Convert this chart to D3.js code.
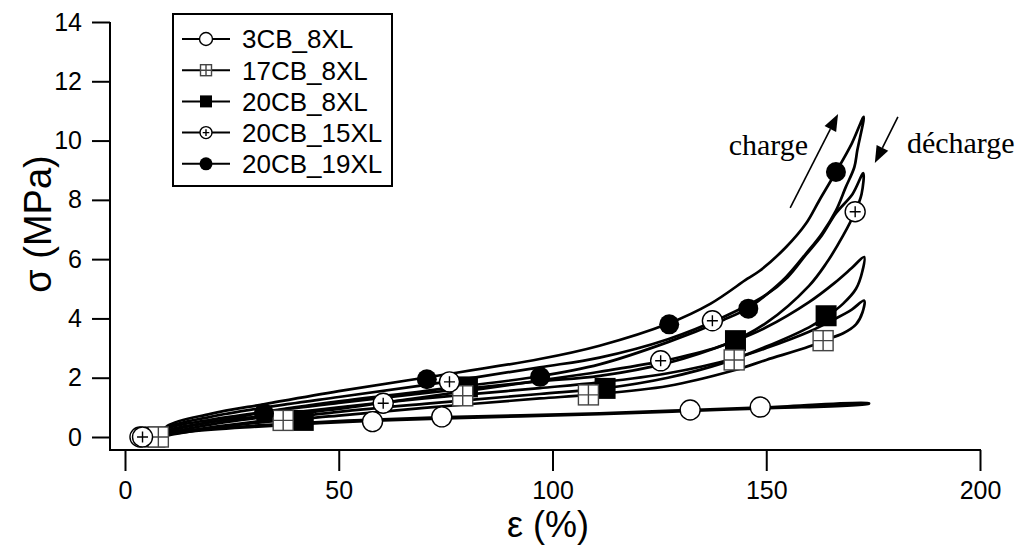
<!DOCTYPE html>
<html><head><meta charset="utf-8">
<script src="https://cdn.jsdelivr.net/npm/d3@7"></script>
<style>body{margin:0;background:#fff}svg{display:block}</style>
</head><body>
<svg id="c" width="1023" height="545"></svg>
<script>
// ---- data ----
const strainTicks = [0, 50, 100, 150, 200];
const stressTicks = [0, 2, 4, 6, 8, 10, 12, 14];
const seriesNames = ["3CB_8XL", "17CB_8XL", "20CB_8XL", "20CB_15XL", "20CB_19XL"];
const seriesSymbols = ["circleOpen", "squareGrid", "squareFilled", "circlePlus", "circleFilled"];

const load3 = [[6,0],[15,0.22],[30,0.38],[52,0.55],[75,0.67],[111,0.8],[132,0.91],[150,1.0],[174,1.14]];
const unload3 = [[174,1.12],[150,0.97],[132,0.88],[111,0.77],[75,0.63],[52,0.51],[30,0.34],[15,0.18],[6,0]];

const load17 = [[8,0],[10,0.22],[20,0.5],[33,0.72],[50,1.0],[70,1.3],[79,1.42],[97,1.65],[111,1.84],[127,2.15],[142.5,2.65],[150,3.0],[160,3.55],[166,3.98],[170,4.3],[172.9,4.6]];
const unload17 = [[172.5,4.2],[171,3.8],[168,3.5],[163.3,3.25],[160,3.05],[150,2.6],[142.5,2.25],[127,1.72],[108.4,1.42],[97,1.3],[70,0.98],[50,0.72],[37,0.56],[20,0.3],[10,0.05],[8,0]];

const load20 = [[8,0],[10,0.28],[20,0.58],[33,0.85],[50,1.15],[70,1.48],[80,1.63],[97,1.88],[111,2.06],[127,2.5],[142.8,3.25],[150,3.7],[160,4.55],[166,5.2],[170,5.7],[172.9,6.07]];
const unload20 = [[172.5,5.6],[171,5.0],[168,4.5],[164,4.05],[160,3.7],[150,3.05],[140,2.5],[127,2.0],[112,1.64],[97,1.45],[70,1.12],[50,0.85],[33,0.56],[20,0.33],[10,0.08],[8,0]];

const load15 = [[8,0],[10,0.32],[20,0.68],[33,1.0],[50,1.35],[70,1.75],[97,2.35],[111,2.68],[127,3.3],[140,4.05],[150,4.8],[155,5.39],[159.3,6.15],[163,6.8],[166.3,7.55],[170.2,8.2],[172.7,8.9]];
const unload15 = [[172.3,8.2],[170.8,7.6],[168,6.8],[164,5.85],[160,5.1],[150,3.85],[140,3.1],[127,2.6],[111,2.2],[97,1.9],[70,1.35],[60,1.15],[50,0.95],[33,0.68],[20,0.42],[10,0.12],[8,0]];

const load19 = [[8,0],[10,0.38],[20,0.78],[33,1.12],[50,1.55],[70,2.0],[97,2.63],[111,3.08],[127,3.82],[137,4.5],[145.6,5.34],[148.4,5.6],[154.6,6.4],[159.3,7.2],[162.4,7.98],[166.3,8.94],[170,9.9],[172.8,10.8]];
const unload19 = [[171.3,9.67],[170.6,9.1],[168.6,8.43],[166.3,7.64],[163,6.86],[159.3,6.19],[154.6,5.39],[150,4.8],[145.8,4.35],[140,3.95],[127,3.2],[111,2.45],[97,2.05],[70,1.55],[50,1.2],[33,0.85],[20,0.5],[10,0.18],[8,0]];

const marks3 = [[3.5,0],[57.9,0.52],[74.1,0.68],[132.2,0.91],[148.6,1.01]];
const marks17 = [[7.8,0],[37,0.56],[79,1.39],[108.4,1.42],[142.5,2.6],[163.3,3.25]];
const marks20 = [[7,0],[41.7,0.56],[80.1,1.69],[112.3,1.64],[142.8,3.25],[164,4.09]];
const marks15 = [[4.1,0],[60.4,1.14],[75.9,1.86],[125.3,2.57],[137.4,3.92],[170.8,7.6]];
const marks19 = [[32.5,0.8],[70.6,1.95],[97.1,2.03],[127.3,3.8],[145.8,4.33],[166.3,8.94]];

// annotation anchors in data units
const chargeArrow = [[155.6,7.73],[166.8,10.9]];
const dechargeArrow = [[180.8,10.8],[175.4,9.24]];
const chargeLabel = [150.5, 9.51];
const dechargeLabel = [182.9, 9.58];

// ---- drawing ----
const svg = d3.select("#c");
const x = d3.scaleLinear().domain([0,200]).range([125,980]);
const y = d3.scaleLinear().domain([0,14]).range([437,22]);
const axisX = 110, axisY = 450;
const FONT = "'Liberation Sans', Arial, sans-serif";

// frame lines
svg.append("line").attr("x1",axisX).attr("x2",axisX).attr("y1",y(14)).attr("y2",axisY+1)
  .attr("stroke","#000").attr("stroke-width",2);
svg.append("line").attr("x1",axisX-1).attr("x2",x(200)+1).attr("y1",axisY).attr("y2",axisY)
  .attr("stroke","#000").attr("stroke-width",2);

const gy = svg.append("g").attr("transform",`translate(${axisX},0)`)
  .call(d3.axisLeft(y).tickValues(stressTicks).tickSize(18).tickSizeOuter(0).tickPadding(10));
gy.select(".domain").remove();
gy.selectAll(".tick line").attr("stroke-width",2);
gy.selectAll("text").attr("font-family",FONT).attr("font-size",25).attr("fill","#000");

const gx = svg.append("g").attr("transform",`translate(0,${axisY})`)
  .call(d3.axisBottom(x).tickValues(strainTicks).tickSize(21).tickSizeOuter(0).tickPadding(10));
gx.select(".domain").remove();
gx.selectAll(".tick line").attr("stroke-width",2);
gx.selectAll("text").attr("font-family",FONT).attr("font-size",25).attr("fill","#000");

svg.append("text").attr("transform","translate(51,224) rotate(-90)").attr("text-anchor","middle")
  .attr("font-family",FONT).attr("font-size",38).text("σ (MPa)");
svg.append("text").attr("x",548).attr("y",537).attr("text-anchor","middle")
  .attr("font-family",FONT).attr("font-size",36).text("ε (%)");

// loops
const line = d3.line().x(d=>x(d[0])).y(d=>y(d[1])).curve(d3.curveCatmullRom.alpha(0.5));
const loops = [[load3,unload3],[load17,unload17],[load20,unload20],[load15,unload15],[load19,unload19]];
loops.forEach(([l,u])=>{
  svg.append("path").attr("d",line(l.concat(u))).attr("fill","none")
    .attr("stroke","#000").attr("stroke-width",2.7).attr("stroke-linejoin","round");
});

function marker(g, type, cx, cy, s){
  if(type==="circleOpen"){
    g.append("circle").attr("cx",cx).attr("cy",cy).attr("r",s).attr("fill","#fff").attr("stroke","#000").attr("stroke-width",1.4);
  } else if(type==="circleFilled"){
    g.append("circle").attr("cx",cx).attr("cy",cy).attr("r",s).attr("fill","#000");
  } else if(type==="circlePlus"){
    g.append("circle").attr("cx",cx).attr("cy",cy).attr("r",s).attr("fill","#fff").attr("stroke","#000").attr("stroke-width",1.4);
    const p=s*0.55;
    g.append("path").attr("d",`M${cx-p},${cy}H${cx+p}M${cx},${cy-p}V${cy+p}`).attr("stroke","#000").attr("stroke-width",1.4);
  } else if(type==="squareFilled"){
    g.append("rect").attr("x",cx-s).attr("y",cy-s).attr("width",2*s).attr("height",2*s).attr("fill","#000");
  } else if(type==="squareGrid"){
    g.append("rect").attr("x",cx-s).attr("y",cy-s).attr("width",2*s).attr("height",2*s).attr("fill","#fff").attr("stroke","#444").attr("stroke-width",1.4);
    g.append("path").attr("d",`M${cx-s},${cy}H${cx+s}M${cx},${cy-s}V${cy+s}`).attr("stroke","#444").attr("stroke-width",1.4);
  }
}

const mg = svg.append("g");
const markSets = [[marks3,"circleOpen",10],[marks20,"squareFilled",10.5],[marks17,"squareGrid",10],[marks15,"circlePlus",10],[marks19,"circleFilled",10]];
markSets.forEach(([pts,t,s])=>pts.forEach(p=>marker(mg,t,x(p[0]),y(p[1]),s)));

// annotations
function arrow(pts){
  const [a,b]=pts.map(p=>[x(p[0]),y(p[1])]);
  const ang=Math.atan2(b[1]-a[1],b[0]-a[0]);
  const L=17,W=6.5;
  const bx=b[0]-L*Math.cos(ang), by=b[1]-L*Math.sin(ang);
  svg.append("line").attr("x1",a[0]).attr("y1",a[1]).attr("x2",bx).attr("y2",by).attr("stroke","#000").attr("stroke-width",1.6);
  const px=-Math.sin(ang)*W, py=Math.cos(ang)*W;
  svg.append("path").attr("d",`M${b[0]},${b[1]}L${bx+px},${by+py}L${bx-px},${by-py}Z`).attr("fill","#000");
}
arrow(chargeArrow); arrow(dechargeArrow);
const SERIF="'Liberation Serif','Times New Roman',serif";
svg.append("text").attr("x",x(chargeLabel[0])).attr("y",y(chargeLabel[1])).attr("text-anchor","middle")
  .attr("font-family",SERIF).attr("font-size",30).text("charge");
svg.append("text").attr("x",x(dechargeLabel[0])).attr("y",y(dechargeLabel[1]))
  .attr("font-family",SERIF).attr("font-size",30).text("décharge");

// legend
const lg = svg.append("g");
lg.append("rect").attr("x",173).attr("y",14).attr("width",219).attr("height",172)
  .attr("fill","#fff").attr("stroke","#000").attr("stroke-width",2);
const legSizes=[6.5,5.5,6,6,6.5];
seriesNames.forEach((n,i)=>{
  const cy=39+i*31.2;
  lg.append("line").attr("x1",182).attr("x2",230).attr("y1",cy).attr("y2",cy).attr("stroke","#000").attr("stroke-width",2);
  marker(lg,seriesSymbols[i],206,cy,legSizes[i]);
  lg.append("text").attr("x",242).attr("y",cy).attr("dy","0.36em").attr("font-family",FONT).attr("font-size",26).text(n);
});
</script>
</body></html>
